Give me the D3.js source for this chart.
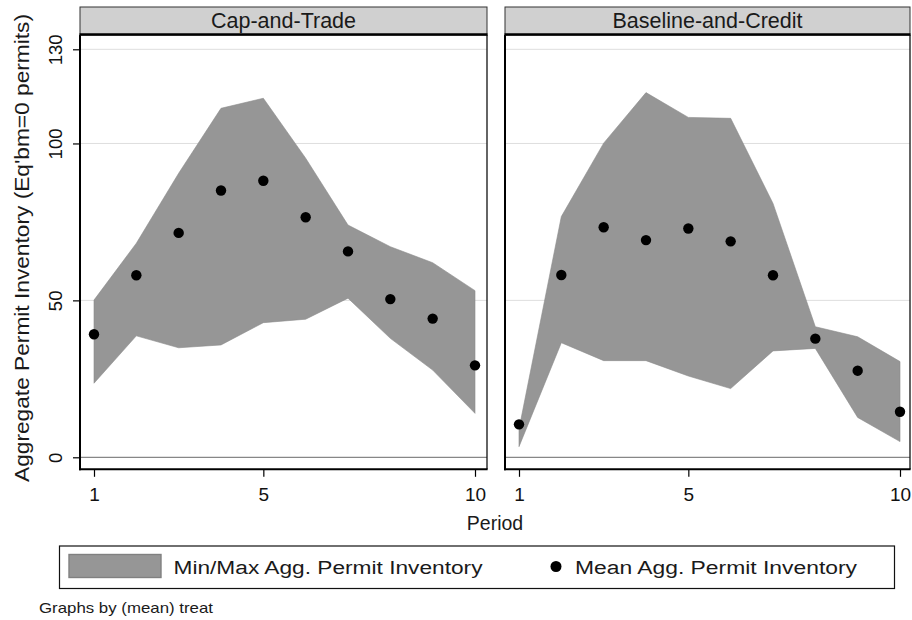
<!DOCTYPE html>
<html>
<head>
<meta charset="utf-8">
<script src="https://cdn.jsdelivr.net/npm/d3@7/dist/d3.min.js"></script>
<style>
  html, body { margin: 0; padding: 0; background: #fff; }
  svg { display: block; font-family: "Liberation Sans", Arial, Helvetica, sans-serif; }
</style>
</head>
<body>
<svg id="chart" width="912" height="620"></svg>
<script>
// Periods and tick values
const periods = [1, 2, 3, 4, 5, 6, 7, 8, 9, 10];
const xTicks = [1, 5, 10];
const yTicks = [0, 50, 100, 130];
const panelTitles = ["Cap-and-Trade", "Baseline-and-Credit"];

// Cap-and-Trade: mean, min, max aggregate permit inventory
const capMean = [39.2, 58.0, 71.5, 85.0, 88.1, 76.5, 65.6, 50.4, 44.2, 29.3];
const capMin  = [23.6, 38.7, 34.9, 35.8, 42.9, 44.0, 50.7, 37.9, 27.8, 14.0];
const capMax  = [50.1, 68.2, 90.5, 111.2, 114.4, 95.3, 74.0, 67.1, 62.0, 53.1];

// Baseline-and-Credit: mean, min, max aggregate permit inventory
const bcMean = [10.5, 58.1, 73.3, 69.2, 72.9, 68.8, 58.0, 37.8, 27.6, 14.5];
const bcMin  = [3.4, 36.5, 30.8, 30.8, 25.9, 21.9, 33.9, 34.7, 12.7, 5.0];
const bcMax  = [9.0, 76.7, 100.1, 116.2, 108.3, 108.0, 80.9, 41.6, 38.4, 30.5];

const series = [
  { title: panelTitles[0], mean: capMean, lo: capMin, hi: capMax },
  { title: panelTitles[1], mean: bcMean, lo: bcMin, hi: bcMax }
];

const svg = d3.select("#chart");
const fillGrey = "#969696";

// Shared vertical layout
const plotTop = 35, plotBottom = 469.3, headTop = 7;
const y = d3.scaleLinear().domain([0, 130]).range([457.3, 49.3]);

const panels = [
  { left: 80, right: 487 },
  { left: 505, right: 910 }
];

series.forEach((s, i) => {
  const p = panels[i];
  const x = d3.scaleLinear().domain([1, 10]).range([p.left + 14, p.left + 395]);
  const g = svg.append("g");

  // plot region
  g.append("rect")
    .attr("x", p.left).attr("y", plotTop)
    .attr("width", p.right - p.left).attr("height", plotBottom - plotTop)
    .attr("fill", "#fff");

  // grid lines
  g.selectAll("line.grid").data(yTicks.filter(v => v !== 0)).join("line")
    .attr("class", "grid")
    .attr("x1", p.left).attr("x2", p.right)
    .attr("y1", d => y(d)).attr("y2", d => y(d))
    .attr("stroke", "#dedede").attr("stroke-width", 1);

  // min/max band
  const area = d3.area()
    .x((d, k) => x(periods[k]))
    .y0(d => y(d[0]))
    .y1(d => y(d[1]));
  g.append("path")
    .datum(s.lo.map((v, k) => [v, s.hi[k]]))
    .attr("d", area)
    .attr("fill", fillGrey)
    .attr("stroke", "#8c8c8c").attr("stroke-width", 0.6);

  // zero line
  g.append("line")
    .attr("x1", p.left).attr("x2", p.right)
    .attr("y1", y(0)).attr("y2", y(0))
    .attr("stroke", "#6a6a6a").attr("stroke-width", 1);

  // mean markers
  g.selectAll("circle.mean").data(s.mean).join("circle")
    .attr("class", "mean")
    .attr("cx", (d, k) => x(periods[k]))
    .attr("cy", d => y(d))
    .attr("r", 5.2)
    .attr("fill", "#000");

  // frame
  g.append("line").attr("x1", p.right).attr("x2", p.right)
    .attr("y1", plotTop).attr("y2", plotBottom)
    .attr("stroke", "#111").attr("stroke-width", 1.3);
  g.append("line").attr("x1", p.left).attr("x2", p.left)
    .attr("y1", plotTop).attr("y2", plotBottom + 1)
    .attr("stroke", "#000").attr("stroke-width", 2);
  g.append("line").attr("x1", p.left - 1).attr("x2", p.right + 0.6)
    .attr("y1", plotBottom).attr("y2", plotBottom)
    .attr("stroke", "#000").attr("stroke-width", 2);

  // x axis ticks & labels
  const xAxis = d3.axisBottom(x).tickValues(xTicks).tickSize(7.5).tickPadding(6).tickFormat(d3.format("d"));
  const xg = g.append("g").attr("transform", `translate(0,${plotBottom})`).call(xAxis);
  xg.select(".domain").remove();
  xg.selectAll(".tick line").attr("stroke", "#000").attr("stroke-width", 1.2);
  xg.selectAll(".tick text")
    .attr("fill", "#111")
    .attr("font-size", 19)
    .attr("font-family", "'Liberation Sans', Arial, sans-serif")
    .attr("dy", null)
    .attr("y", 31.4);

  // y axis only on the first panel
  if (i === 0) {
    const yAxis = d3.axisLeft(y).tickValues(yTicks).tickSize(7).tickFormat(d3.format("d"));
    const yg = g.append("g").attr("transform", `translate(${p.left},0)`).call(yAxis);
    yg.select(".domain").remove();
    yg.selectAll(".tick line").attr("stroke", "#000").attr("stroke-width", 1.2);
    yg.selectAll(".tick text")
      .attr("fill", "#111")
      .attr("font-size", 18.5)
      .attr("font-family", "'Liberation Sans', Arial, sans-serif")
      .attr("text-anchor", "middle")
      .attr("transform", "rotate(-90)")
      .attr("x", 0)
      .attr("dy", null)
      .attr("y", -18.3);
  }

  // panel header strip
  g.append("rect")
    .attr("x", p.left).attr("y", headTop)
    .attr("width", p.right - p.left).attr("height", plotTop - headTop)
    .attr("fill", "#d0d0d0")
    .attr("stroke", "#333").attr("stroke-width", 1);
  g.append("line")
    .attr("x1", p.left - 0.5).attr("x2", p.right + 0.5)
    .attr("y1", plotTop - 0.5).attr("y2", plotTop - 0.5)
    .attr("stroke", "#000").attr("stroke-width", 2.6);
  g.append("text")
    .attr("x", (p.left + p.right) / 2).attr("y", 27.6)
    .attr("text-anchor", "middle")
    .attr("font-size", 21.5)
    .attr("fill", "#1a1a1a")
    .text(s.title);
});

// y axis title
svg.append("text")
  .attr("transform", "translate(28.5,248) rotate(-90)")
  .attr("text-anchor", "middle")
  .attr("font-size", 20)
  .attr("fill", "#1a1a1a")
  .attr("textLength", 468)
  .attr("lengthAdjust", "spacingAndGlyphs")
  .text("Aggregate Permit Inventory (Eq'bm=0 permits)");

// x axis title
svg.append("text")
  .attr("x", 495).attr("y", 529.5)
  .attr("text-anchor", "middle")
  .attr("font-size", 19.5)
  .attr("fill", "#1a1a1a")
  .text("Period");

// legend
const lg = svg.append("g");
lg.append("rect")
  .attr("x", 59.5).attr("y", 546)
  .attr("width", 835).attr("height", 42.5)
  .attr("fill", "#fff").attr("stroke", "#111").attr("stroke-width", 1.2);
lg.append("rect")
  .attr("x", 69).attr("y", 554.5)
  .attr("width", 92).attr("height", 23)
  .attr("fill", fillGrey).attr("stroke", "#808080").attr("stroke-width", 1.4);
lg.append("text")
  .attr("x", 173.5).attr("y", 574.3)
  .attr("font-size", 18)
  .attr("fill", "#1a1a1a")
  .attr("textLength", 309)
  .attr("lengthAdjust", "spacingAndGlyphs")
  .text("Min/Max Agg. Permit Inventory");
lg.append("circle")
  .attr("cx", 556).attr("cy", 566.5).attr("r", 5.5).attr("fill", "#000");
lg.append("text")
  .attr("x", 575).attr("y", 574.3)
  .attr("font-size", 18)
  .attr("fill", "#1a1a1a")
  .attr("textLength", 282)
  .attr("lengthAdjust", "spacingAndGlyphs")
  .text("Mean Agg. Permit Inventory");

// note
svg.append("text")
  .attr("x", 39).attr("y", 613)
  .attr("font-size", 15)
  .attr("fill", "#1a1a1a")
  .attr("textLength", 174)
  .attr("lengthAdjust", "spacingAndGlyphs")
  .text("Graphs by (mean) treat");
</script>
</body>
</html>
